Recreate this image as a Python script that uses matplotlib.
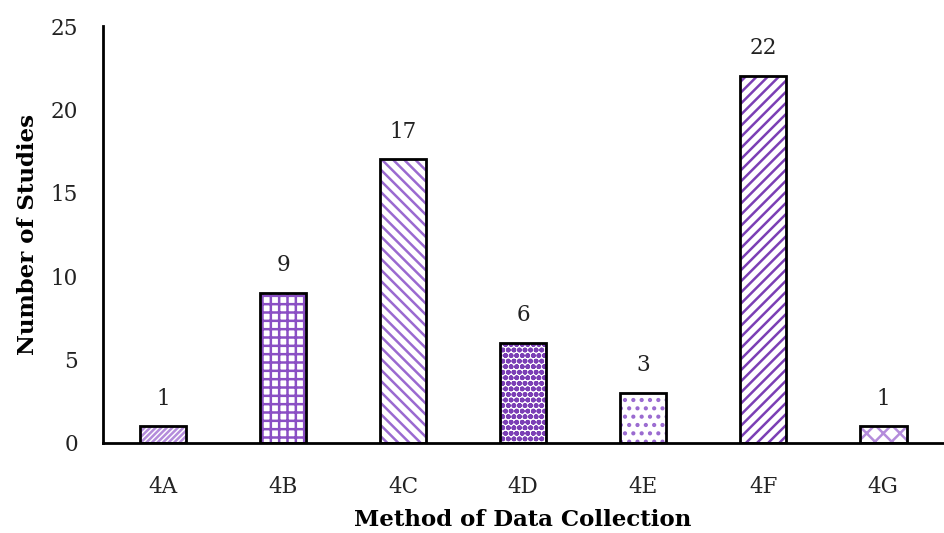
import numpy as np
import matplotlib
matplotlib.use('Agg')
import matplotlib.pyplot as plt

methods = ['4A', '4B', '4C', '4D', '4E', '4F', '4G']
studies = [1, 9, 17, 6, 3, 22, 1]
hatches = ['//////', '++', '\\\\\\', 'ooo', '..', '///', 'xx']
hatch_colors = ['#B48CDB', '#8A4FC4', '#9A6AD0', '#7B3FB5', '#9A6AD0', '#7B3FB5', '#B48CDB']

plt.rcParams['font.family'] = ['DejaVu Serif']
plt.rcParams['hatch.linewidth'] = 1.8

fig = plt.figure(figsize=(9.45, 5.33), dpi=100)
ax = fig.add_axes([0.109, 0.169, 0.889, 0.782])

x = np.arange(len(methods))
width = 0.39
for i in range(len(methods)):
    ax.bar(x[i], studies[i], width, color='white', edgecolor=hatch_colors[i],
           hatch=hatches[i], linewidth=0, zorder=2)
ax.bar(x, studies, width, facecolor='none', edgecolor='black', linewidth=2, zorder=3)

for xi, v in zip(x, studies):
    ax.text(xi, v + 1.0, str(v), ha='center', va='bottom', fontsize=15.5, color='#222222')

ax.set_xlim(-0.5, len(methods) - 0.5)
ax.set_ylim(0, 25)
ax.set_yticks([0, 5, 10, 15, 20, 25])
ax.set_xticks(x)
ax.set_xticklabels(methods)
ax.tick_params(length=0, labelsize=15.5, colors='#222222')
ax.tick_params(axis='x', pad=24)
ax.tick_params(axis='y', pad=18)
for s in ['top', 'right']:
    ax.spines[s].set_visible(False)
for s in ['left', 'bottom']:
    ax.spines[s].set_linewidth(2)

ax.set_xlabel('Method of Data Collection', fontsize=16.5, fontweight='bold', labelpad=8)
ax.set_ylabel('Number of Studies', fontsize=16.5, fontweight='bold', labelpad=8)

plt.savefig('out.png', dpi=100)
